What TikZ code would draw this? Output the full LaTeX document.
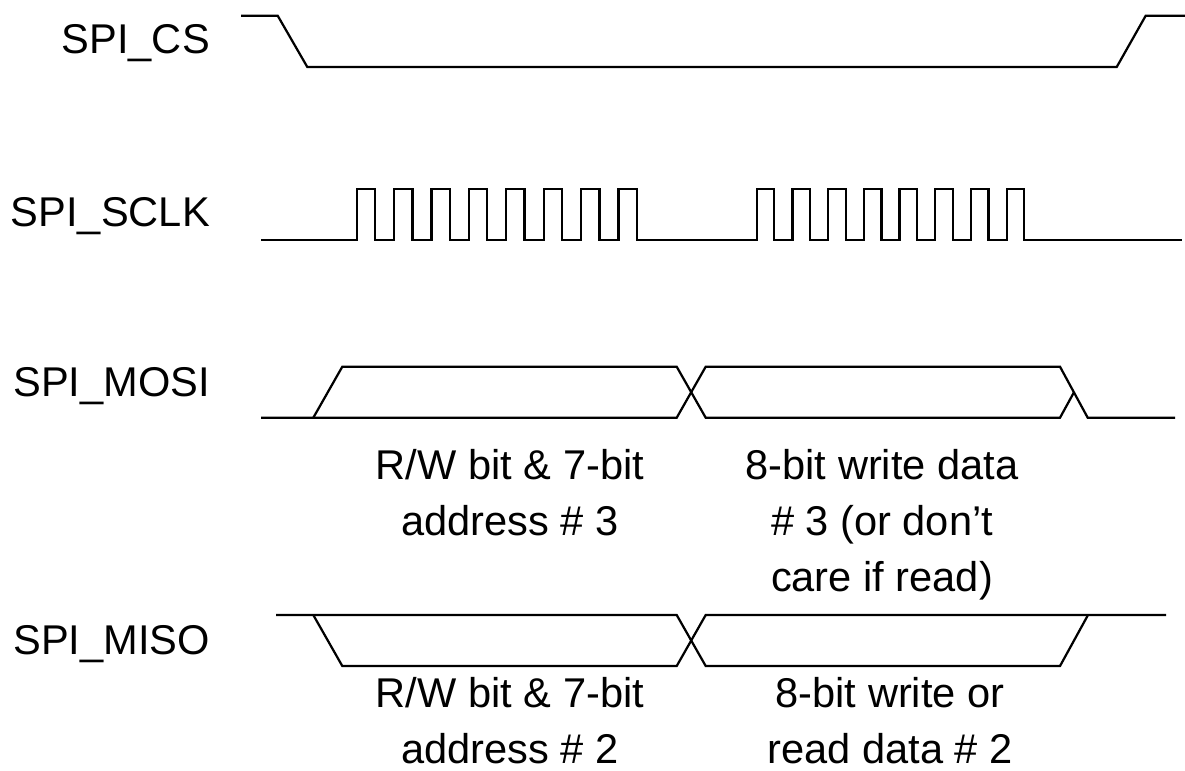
\documentclass[tikz,border=0pt]{standalone}
\usepackage{fontspec}
\setmainfont{Liberation Sans}
\usetikzlibrary{positioning}
\begin{document}
\begin{tikzpicture}[
  x=0.03cm, y=-0.03cm,
  sig/.style={line width=1.9pt, line join=miter},
  lbl/.style={font=\fontsize{35.5}{49}\selectfont, anchor=base east, inner sep=0pt},
  note/.style={font=\fontsize{35.5}{48}\selectfont, align=center, anchor=north, inner sep=0pt}
]
  \useasboundingbox (0,0) rectangle (1185,770);

  % signal names
  \node[lbl] (cs)   at (210,53.3)  {SPI\_CS};
  \node[lbl] (sclk) at (210,226.7) {SPI\_SCLK};
  \node[lbl] (mosi) at (210,396)   {SPI\_MOSI};
  \node[lbl] (miso) at (210,654)   {SPI\_MISO};

  % chip select
  \draw[sig] (241,15.7) -- (277.7,15.7) -- (307.3,67) -- (1116.7,67) -- (1145.7,15.7) -- (1185,15.7);

  % clock, two bursts of 8
  \draw[sig] (261,240.3)
    \foreach \i in {0,...,7} { -- ({356.7+37.4*\i},240.3) -- ++(0,-51) -- ++(18.3,0) -- ++(0,51) }
    \foreach \i in {0,...,7} { -- ({756.7+35.7*\i},240.3) -- ++(0,-51) -- ++(17.6,0) -- ++(0,51) }
    -- (1182,240.3);

  % MOSI bus
  \draw[sig] (261,417.7) -- (676.7,417.7) -- (705.7,366.7) -- (1060,366.7) -- (1087.7,417.7) -- (1175,417.7);
  \draw[sig] (313.3,417.7) -- (342.3,366.7) -- (676.7,366.7) -- (705.7,417.7) -- (1060,417.7) -- (1074,392.2);

  % MISO bus
  \draw[sig] (276,615) -- (676.7,615) -- (705.7,666) -- (1060,666) -- (1088,615);
  \draw[sig] (313.3,615) -- (342.3,666) -- (676.7,666) -- (705.7,615) -- (1166,615);

  % bus contents
  \node[note] (adr3) at (510,449) {R/W bit \& 7-bit\\address \# 3};
  \node[note] (dat3) at (882,449) {8-bit write data\\\# 3 (or don’t\\care if read)};
  \node[note] (adr2) at (510,677) {R/W bit \& 7-bit\\address \# 2};
  \node[note] (dat2) at (890,677) {8-bit write or\\read data \# 2};
\end{tikzpicture}
\end{document}
